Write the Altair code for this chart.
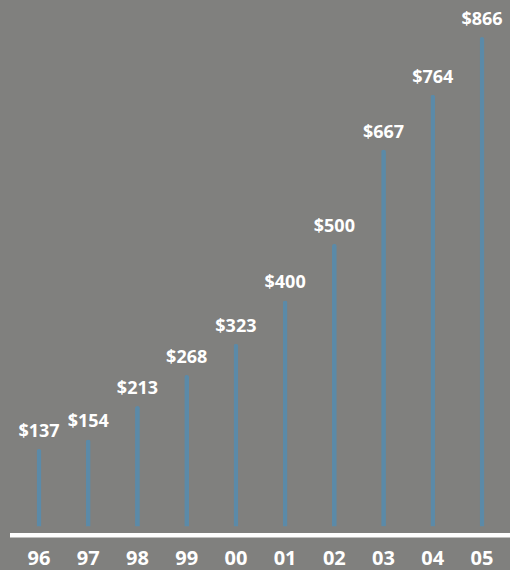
import altair as alt
import pandas as pd

years = ["96", "97", "98", "99", "00", "01", "02", "03", "04", "05"]
values = [137, 154, 213, 268, 323, 400, 500, 667, 764, 866]

df = pd.DataFrame({"year": years, "value": values})

BG = "#80807e"
BAR = "#5b8aa8"
FONT = "Open Sans"

x = alt.X("year:N", sort=years, axis=None,
          scale=alt.Scale(type="point", range=[39, 482], padding=0))
y_scale = alt.Scale(domain=[0, 866], range=[526.4, 37.1])

base = alt.Chart(df)

bars = base.mark_bar(color=BAR, width=4.8, cornerRadiusTopLeft=2.4,
                     cornerRadiusTopRight=2.4).encode(
    x=x,
    y=alt.Y("value:Q", scale=y_scale, axis=None),
    y2=alt.value(534),
)

labels = base.transform_calculate(
    label="'$' + datum.value"
).mark_text(font=FONT, fontWeight="bold", fontSize=18, color="white",
            baseline="alphabetic", dy=-12).encode(
    x=x,
    y=alt.Y("value:Q", scale=y_scale, axis=None),
    text="label:N",
)

xlabels = base.mark_text(font=FONT, fontWeight="bold", fontSize=20, color="white",
                         baseline="alphabetic").encode(
    x=x,
    y=alt.value(565),
    text="year:N",
)

baseline = alt.Chart(pd.DataFrame({"a": [0]})).mark_rule(color="white", strokeWidth=4.5).encode(
    x=alt.value(10), x2=alt.value(510), y=alt.value(535.3)
)

chart = alt.layer(bars, baseline, labels, xlabels).properties(
    width=510, height=570,
    background=BG,
    padding=0,
    autosize=alt.AutoSizeParams(type="none"),
).configure_view(stroke=None)

chart.save("out.html", embed_options={"renderer": "svg", "actions": False})
